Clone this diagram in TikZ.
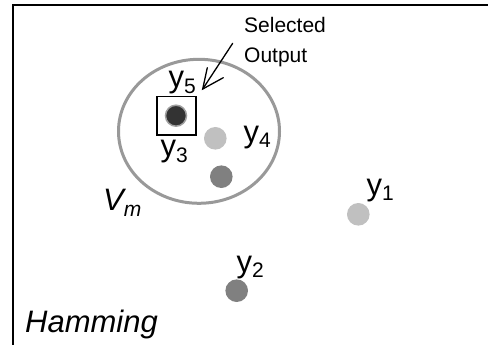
\documentclass[tikz,border=0pt]{standalone}
\usepackage{fontspec}
\setmainfont{Liberation Sans}
\usetikzlibrary{arrows.meta}
\definecolor{lightdot}{HTML}{C0C0C0}
\definecolor{middot}{HTML}{808080}
\definecolor{darkdot}{HTML}{333333}
\definecolor{halo}{HTML}{A0A0A0}
\definecolor{ringgray}{HTML}{999999}
\newcommand{\ylab}[1]{y\raisebox{-0.17em}{\fontsize{21}{21}\selectfont #1}}
\tikzset{
  dot/.style={circle, inner sep=0pt, minimum size=22.6pt, draw=none},
  lbl/.style={anchor=base west, inner sep=0pt, font=\fontsize{31}{31}\selectfont},
  note/.style={anchor=base west, inner sep=0pt, font=\fontsize{21}{21}\selectfont},
  pointer/.style={line width=1.3pt, line cap=round},
}
\begin{document}
\begin{tikzpicture}[x=1pt,y=-1pt]
\useasboundingbox (0,0) rectangle (488,345);
\fill[white] (0,0) rectangle (488,345);
% frame
\draw[line width=2pt] (12.5,345) -- (12.5,5.5) -- (488,5.5);
% ellipse V_m
\draw[ringgray, line width=3pt] (199,131.3) ellipse [x radius=80.5, y radius=72];
% dots
\node[dot, fill=darkdot, draw=halo, line width=1.5pt, minimum size=21pt] (y5) at (176,115.7) {};
\draw[line width=1.6pt] (156.7,96.7) rectangle (195.7,135.3);
\node[dot, fill=lightdot] (y4) at (215.3,138.3) {};
\node[dot, fill=middot] (y3) at (221.3,176.7) {};
\node[dot, fill=lightdot] (y1) at (358.3,214.3) {};
\node[dot, fill=middot] (y2) at (236.7,290.7) {};
% labels
\node[lbl] (l5) at (168.5,88) {\ylab{5}};
\node[lbl] (l3) at (160.5,157) {\ylab{3}};
\node[lbl] (l4) at (243.5,142.3) {\ylab{4}};
\node[lbl] (l1) at (366.5,195) {\ylab{1}};
\node[lbl] (l2) at (236.5,272) {\ylab{2}};
\node[lbl] (vm) at (103,211) {\itshape V\raisebox{-0.17em}{\fontsize{21}{21}\selectfont m}};
\node[lbl] (ham) at (25,332) {\itshape Hamming};
\node[note] (sel) at (244,32.5) {Selected};
\node[note] (out) at (244,63) {Output};
% arrow
\coordinate (as) at (232.7,43.3);
\coordinate (ae) at (202.7,89);
\coordinate (arm1) at (223.3,77.7);
\coordinate (arm2) at (207.3,67.7);
\draw[pointer] (as) -- (ae);
\draw[pointer] (arm1) -- (ae) -- (arm2);
\end{tikzpicture}
\end{document}
